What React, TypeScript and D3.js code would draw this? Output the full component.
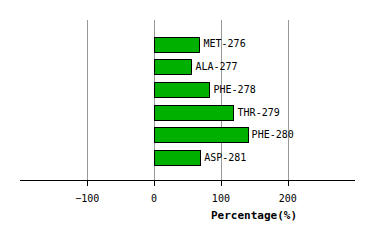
import React from "react";
import * as d3 from "d3";

const categories = ["MET-276", "ALA-277", "PHE-278", "THR-279", "PHE-280", "ASP-281"];
const values = [68, 56, 83, 119, 140, 69];
const tickValues = [-100, 0, 100, 200];

export default function App() {
  const W = 374, H = 240;
  const x = d3.scaleLinear().domain([-200, 300]).range([20.5, 354.5]);
  const y = d3.scaleBand<string>().domain(categories).range([32.5, 168.8]).paddingInner(0.36).paddingOuter(0.18);
  const axisY = 180.5;
  const mono = "'DejaVu Sans Mono', monospace";
  return (
    <svg width={W} height={H} style={{ position: "absolute", left: 0, top: 0, background: "#fff" }}>
      {tickValues.map((t) => (
        <line key={"g" + t} x1={Math.round(x(t)) + 0.5} x2={Math.round(x(t)) + 0.5} y1={20} y2={axisY} stroke="#999" strokeWidth={1} />
      ))}
      {categories.map((c, i) => {
        const v = values[i];
        const x0 = x(0), x1 = x(v);
        const by = y(c)!;
        return (
          <g key={c}>
            <rect x={Math.round(Math.min(x0, x1)) + 0.5} y={Math.round(by) + 0.5} width={Math.round(Math.abs(x1 - x0))} height={Math.round(y.bandwidth())} fill="#00b000" stroke="#000" strokeWidth={1} />
            <text x={x1 + 4} y={by + y.bandwidth() / 2} dy="0.35em" fontFamily={mono} fontSize={10} fill="#000">{c}</text>
          </g>
        );
      })}
      <line x1={20} x2={355} y1={axisY} y2={axisY} stroke="#000" strokeWidth={1} />
      {tickValues.map((t) => (
        <g key={"t" + t}>
          <line x1={Math.round(x(t)) + 0.5} x2={Math.round(x(t)) + 0.5} y1={axisY} y2={186} stroke="#000" strokeWidth={1} />
          <text x={x(t)} y={198} dy="0.35em" textAnchor="middle" fontFamily={mono} fontSize={10} fill="#000">{t === -100 ? "\u2212100" : String(t)}</text>
        </g>
      ))}
      <text x={254} y={215} dy="0.35em" textAnchor="middle" fontFamily={mono} fontSize={11} fontWeight="bold" fill="#000">Percentage(%)</text>
    </svg>
  );
}
